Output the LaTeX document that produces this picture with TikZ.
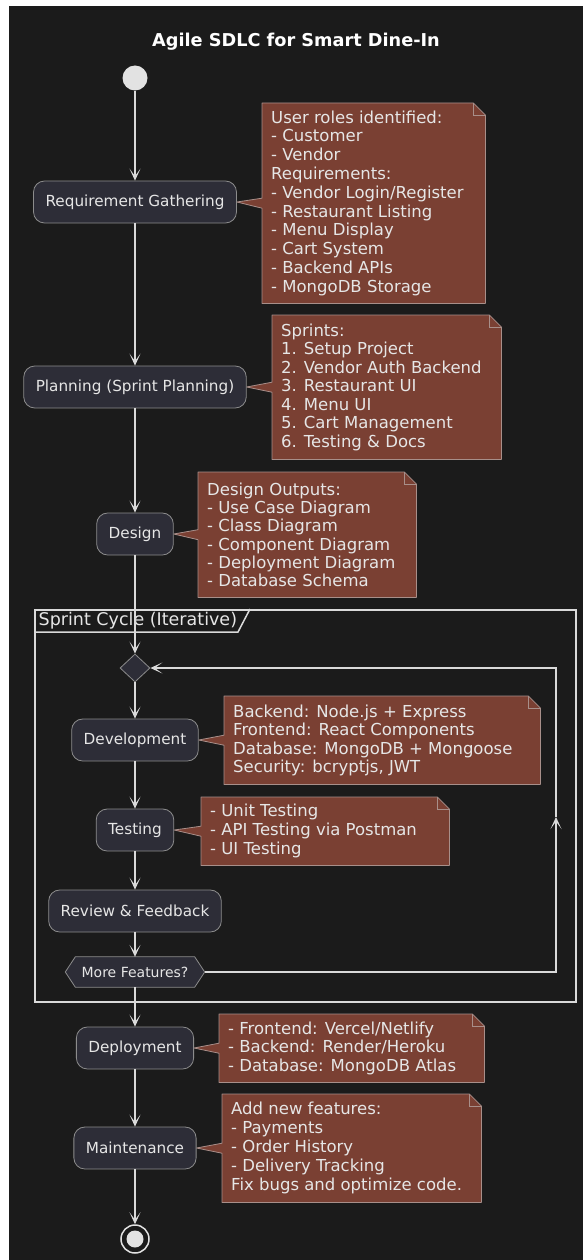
\documentclass[tikz,border=0pt]{standalone}
\usepackage{fontspec}
\setmainfont{DejaVu Sans}
\usetikzlibrary{arrows.meta,calc,shapes.geometric}
\definecolor{bgc}{HTML}{1B1B1B}
\definecolor{boxfill}{HTML}{2D2D37}
\definecolor{boxline}{HTML}{8C8C8C}
\definecolor{notefill}{HTML}{7A4033}
\definecolor{noteline}{HTML}{A88F8A}
\definecolor{txt}{HTML}{E6E6E6}
\definecolor{wirec}{HTML}{DADADA}
\definecolor{dotc}{HTML}{E2E2E2}
\pgfdeclarelayer{bg}
\pgfdeclarelayer{back}
\pgfsetlayers{bg,back,main}
\newcommand\mknote[8]{%
  \node[noteshape, minimum width=#5pt, minimum height=#6pt] (#1) at (#3,#4) {};
  \node[notetext, font=\fontsize{16.5}{#7}\selectfont] (#1t) at ([xshift=9pt]#1.west) {#8};
  \begin{pgfonlayer}{back}
    \path[fill=notefill, draw=noteline, line width=0.8pt, line join=round]
      (#1.north west) -- ([xshift=-12pt]#1.north east) -- ([yshift=-12pt]#1.north east)
      -- (#1.south east) -- (#1.south west) -- ([yshift=-5pt]#1.west)
      -- (#2.east) -- ([yshift=5pt]#1.west) -- cycle;
    \draw[noteline, line width=0.8pt] ([xshift=-12pt]#1.north east) |- ([yshift=-12pt]#1.north east);
  \end{pgfonlayer}}
\begin{document}
\begin{tikzpicture}[x=1pt,y=-1pt,
  act/.style={draw=boxline, fill=boxfill, rounded corners=11pt, line width=0.8pt,
    text=txt, font=\fontsize{15.25}{18}\selectfont, inner xsep=12pt, inner ysep=0pt,
    minimum height=42pt},
  noteshape/.style={anchor=north west, inner sep=0pt},
  notetext/.style={anchor=west, text=txt, inner sep=0pt, align=left},
  wire/.style={draw=wirec, line width=1.1pt},
  arr/.style={wire, -{Stealth[length=12pt,width=11pt,inset=7.5pt]}},
  ]
\useasboundingbox (0,0) rectangle (583,1260);
\begin{pgfonlayer}{bg}
  \fill[white] (0,0) rectangle (583,1260);
  \fill[bgc] (8.5,6.5) rectangle (583,1260);
\end{pgfonlayer}

\node[text=white, font=\bfseries\fontsize{17.7}{20}\selectfont] (title) at (296,42) {Agile SDLC for Smart Dine-In};

\node[circle, fill=dotc, minimum size=25pt, inner sep=0pt] (start) at (135,78) {};
\node[act] (req) at (135,202) {Requirement Gathering};
\node[act] (plan) at (135,387) {Planning (Sprint Planning)};
\node[act] (design) at (135,534) {Design};

% sprint frame
\node[draw=wirec, line width=1.5pt, inner sep=0pt, minimum width=541pt, minimum height=392pt, anchor=north west] (frame) at (34,609) {};
\node[anchor=west, text=txt, inner sep=0pt, font=\fontsize{17.5}{20}\selectfont] (framelbl) at (38.5,621) {Sprint Cycle (Iterative)};
\draw[draw=wirec, line width=1.5pt] (frame.west |- 0,632) -- (238,632) -- (250,609);

\node[diamond, draw=boxline, fill=boxfill, line width=0.8pt, minimum width=30pt, minimum height=28pt, inner sep=0pt] (dia) at (135,668) {};
\node[act] (dev) at (135,740) {Development};
\node[act] (test) at (135,830) {Testing};
\node[act] (review) at (135,911) {Review \& Feedback};
\node[text=txt, inner sep=0pt, minimum width=139pt, minimum height=30pt, font=\fontsize{14}{16}\selectfont] (hex) at (135,972) {More Features?};
\begin{pgfonlayer}{back}
  \path[fill=boxfill, draw=boxline, line width=0.8pt]
    (hex.west) -- ([xshift=10pt]hex.north west) -- ([xshift=-10pt]hex.north east)
    -- (hex.east) -- ([xshift=-10pt]hex.south east) -- ([xshift=10pt]hex.south west) -- cycle;
\end{pgfonlayer}
\node[act] (deploy) at (135,1048) {Deployment};
\node[act] (maint) at (135,1148) {Maintenance};
\node[circle, draw=dotc, line width=1.5pt, minimum size=28pt, inner sep=0pt] (end) at (135,1239) {};
\fill[dotc] (end.center) circle (8.5pt);

% notes
\mknote{n1}{req}{262}{103}{223}{200}{18.8}{User roles identified:\\- Customer\\- Vendor\\Requirements:\\- Vendor Login/Register\\- Restaurant Listing\\- Menu Display\\- Cart System\\- Backend APIs\\- MongoDB Storage}
\mknote{n2}{plan}{272}{315}{229}{144}{18.5}{Sprints:\\1. Setup Project\\2. Vendor Auth Backend\\3. Restaurant UI\\4. Menu UI\\5. Cart Management\\6. Testing \& Docs}
\mknote{n3}{design}{198}{472}{218}{125}{18.3}{Design Outputs:\\- Use Case Diagram\\- Class Diagram\\- Component Diagram\\- Deployment Diagram\\- Database Schema}
\mknote{n4}{dev}{224}{696}{316}{88}{18.5}{Backend: Node.js + Express\\Frontend: React Components\\Database: MongoDB + Mongoose\\Security: bcryptjs, JWT}
\mknote{n5}{test}{201}{797}{248}{68}{19.2}{- Unit Testing\\- API Testing via Postman\\- UI Testing}
\mknote{n6}{deploy}{219}{1014}{265}{68}{18.3}{- Frontend: Vercel/Netlify\\- Backend: Render/Heroku\\- Database: MongoDB Atlas}
\mknote{n7}{maint}{222}{1094}{259}{108}{19}{Add new features:\\- Payments\\- Order History\\- Delivery Tracking\\Fix bugs and optimize code.}

% connectors
\draw[arr] (start) -- (req);
\draw[arr] (req) -- (plan);
\draw[arr] (plan) -- (design);
\draw[arr] (design) -- (dia);
\draw[arr] (dia) -- (dev);
\draw[arr] (dev) -- (test);
\draw[arr] (test) -- (review);
\draw[arr] (review) -- (hex);
\draw[arr] (hex) -- (deploy);
\draw[arr] (deploy) -- (maint);
\draw[arr] (maint) -- (end);

\coordinate (lb) at (556,972);
\coordinate (lm) at (556,817);
\coordinate (lt) at (556,668);
\draw[arr] (hex.east) -- (lb) -- (lm);
\draw[arr] (lm) -- (lt) -- (dia.east);
\end{tikzpicture}
\end{document}
